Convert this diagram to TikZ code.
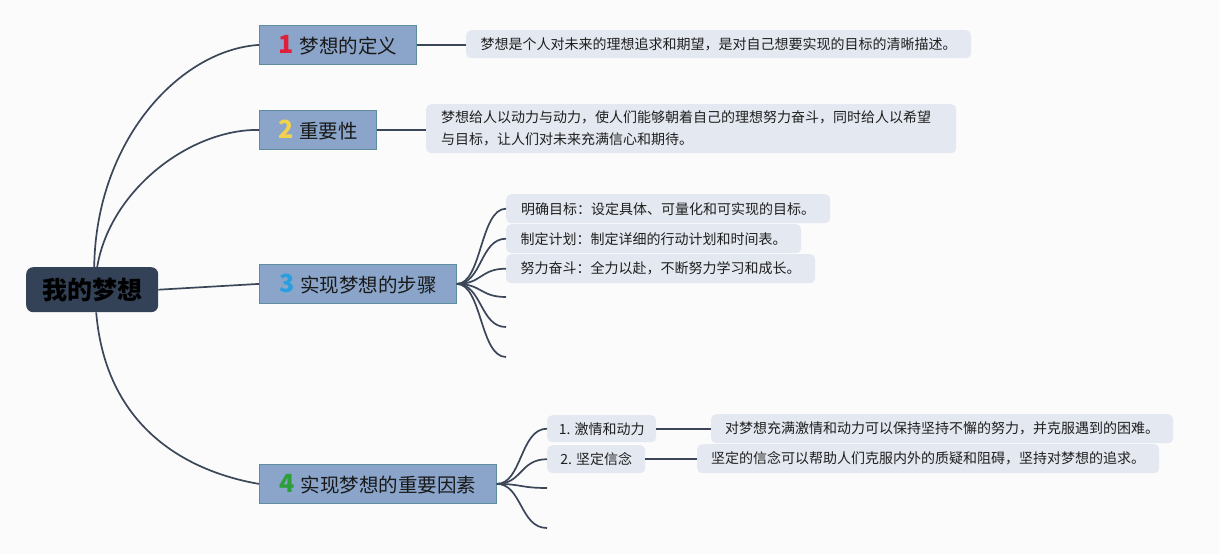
\documentclass[tikz,border=0pt]{standalone}
\usepackage{fontspec}
\setmainfont{Noto Sans CJK SC}
\usetikzlibrary{calc}
\definecolor{bg}{HTML}{FBFBFC}
\definecolor{conn}{HTML}{3B4658}
\definecolor{rootfill}{HTML}{344257}
\definecolor{titlefill}{HTML}{8AA5C9}
\definecolor{titleborder}{HTML}{5E8E9E}
\definecolor{leaffill}{HTML}{E4E8F0}
\definecolor{nred}{HTML}{E0203A}
\definecolor{nyellow}{HTML}{F2D24A}
\definecolor{nblue}{HTML}{2A9FE0}
\definecolor{ngreen}{HTML}{2E9E3A}
\tikzset{
  rootbox/.style={fill=rootfill, rounded corners=7pt, anchor=north west, inner sep=0pt,
    font=\fontsize{25}{28}\selectfont\bfseries, text=black},
  titlebox/.style={fill=titlefill, draw=titleborder, line width=0.8pt, anchor=north west, inner sep=0pt,
    minimum height=39pt, font=\fontsize{19.5}{22}\selectfont, text=black!90},
  leafbox/.style={fill=leaffill, rounded corners=5pt, anchor=north west, inner sep=0pt,
    font=\fontsize{14}{22}\selectfont, text=black!88},
  branch/.style={draw=conn, line width=1.7pt},
}
\newcommand{\bignum}[2]{{\fontsize{25}{28}\selectfont\bfseries\color{#1}#2}\hspace{6pt}}
\begin{document}
\begin{tikzpicture}[x=1pt,y=-1pt]
\fill[bg] (0,0) rectangle (1219,554);
\useasboundingbox (0,0) rectangle (1219,554);

% root
\node[rootbox, minimum width=132pt, minimum height=45pt] (root) at (26,267) {我的梦想};

% main topics
\node[titlebox, minimum width=157pt] (b1) at (259,25) {\bignum{nred}{1}梦想的定义};
\node[titlebox, minimum width=117pt] (b2) at (259,110) {\bignum{nyellow}{2}重要性};
\node[titlebox, minimum width=197pt] (b3) at (259,264) {\bignum{nblue}{3}实现梦想的步骤};
\node[titlebox, minimum width=237pt] (b4) at (259,464) {\bignum{ngreen}{4}实现梦想的重要因素};

% leaves
\node[leafbox, minimum width=505pt, minimum height=28pt] (l1) at (466,30) {梦想是个人对未来的理想追求和期望，是对自己想要实现的目标的清晰描述。};
\node[leafbox, inner xsep=15pt, text width=500pt, minimum height=49pt, align=left] (l2) at (426,104) {梦想给人以动力与动力，使人们能够朝着自己的理想努力奋斗，同时给人以希望\\与目标，让人们对未来充满信心和期待。};

\node[leafbox, minimum width=324pt, minimum height=29pt] (c31) at (506,194) {明确目标：设定具体、可量化和可实现的目标。};
\node[leafbox, minimum width=295pt, minimum height=29pt] (c32) at (506,224) {制定计划：制定详细的行动计划和时间表。};
\node[leafbox, minimum width=309pt, minimum height=29pt] (c33) at (506,254) {努力奋斗：全力以赴，不断努力学习和成长。};
\coordinate (e34) at (506,297);
\coordinate (e35) at (506,327);
\coordinate (e36) at (506,357);

\node[leafbox, minimum width=109pt, minimum height=27pt] (c41) at (547,415) {1. 激情和动力};
\node[leafbox, minimum width=98pt, minimum height=28pt] (c42) at (547,445) {2. 坚定信念};
\coordinate (e43) at (547,488);
\coordinate (e44) at (547,528);

\node[leafbox, minimum width=462pt, minimum height=29pt] (d41) at (711,414) {对梦想充满激情和动力可以保持坚持不懈的努力，并克服遇到的困难。};
\node[leafbox, minimum width=462pt, minimum height=29pt] (d42) at (697,444) {坚定的信念可以帮助人们克服内外的质疑和阻碍，坚持对梦想的追求。};

% connectors from root
\draw[branch] ([xshift=2pt]root.north) .. controls (96,140) and (180,50) .. (b1.west);
\draw[branch] ([xshift=5pt]root.north) .. controls (110,190) and (190,129) .. (b2.west);
\draw[branch] (root.east) -- (b3.west);
\draw[branch] ([xshift=4pt]root.south) .. controls (106,430) and (190,472) .. (b4.west);

% title to leaf
\draw[branch] (b1.east) -- (b1.east -| l1.west);
\draw[branch] (b2.east) -- (b2.east -| l2.west);

% step branches
\foreach \t in {c31,c32,c33,e34,e35,e36}
  \draw[branch] (b3.east) .. controls (482,284) and (480,0|-\t) .. (\t.west);

% factor branches
\foreach \t in {c41,c42,e43,e44}
  \draw[branch] (b4.east) .. controls (522,484) and (520,0|-\t) .. (\t.west);

\draw[branch] (c41.east) -- (c41.east -| d41.west);
\draw[branch] (c42.east) -- (c42.east -| d42.west);
\end{tikzpicture}
\end{document}
